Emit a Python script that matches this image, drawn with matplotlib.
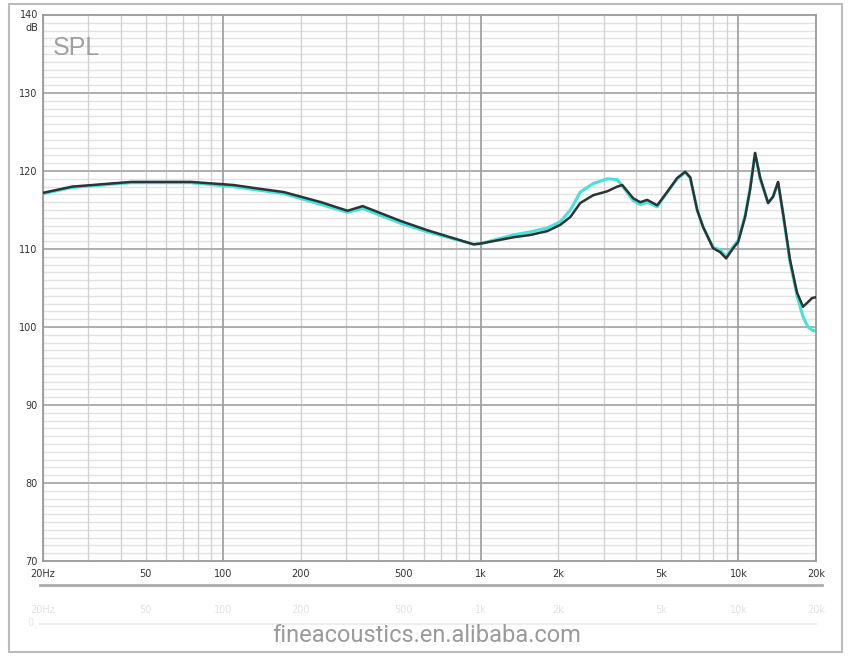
import matplotlib
matplotlib.use("Agg")
import matplotlib.pyplot as plt
from matplotlib.patches import Rectangle
from matplotlib.ticker import FixedLocator, NullFormatter
import numpy as np

# ---- 频响数据 ----
freq = [20, 26, 44, 75, 100, 110, 140, 172, 240, 304, 348, 488, 621, 938, 1000,
        1338, 1558, 1814, 2036, 2226, 2434, 2734, 3098, 3386, 3540, 3906, 4158,
        4426, 4838, 5290, 5784, 6214, 6498, 6916, 7296, 7978, 8492, 8960, 9538,
        9974, 10614, 11098, 11604, 12134, 13032, 13626, 14248, 14898, 15858,
        16880, 17810, 18622, 19300, 19820]
spl_black = [117.2, 118.0, 118.6, 118.6, 118.3, 118.2, 117.7, 117.3, 116.0, 114.9,
             115.5, 113.6, 112.4, 110.6, 110.7, 111.5, 111.8, 112.3, 113.1, 114.1,
             115.9, 116.9, 117.4, 118.0, 118.2, 116.5, 116.0, 116.3, 115.6, 117.3,
             119.1, 119.9, 119.2, 115.0, 112.8, 110.1, 109.6, 108.8, 110.1, 110.9,
             114.1, 117.6, 122.3, 119.2, 115.9, 116.7, 118.6, 114.6, 108.6, 104.4,
             102.6, 103.2, 103.7, 103.8]
spl_cyan = [117.1, 117.9, 118.5, 118.5, 118.1, 118.0, 117.5, 117.1, 115.7, 114.7,
            115.2, 113.3, 112.2, 110.6, 110.7, 111.8, 112.2, 112.7, 113.5, 115.0,
            117.3, 118.4, 119.0, 118.9, 118.1, 116.2, 115.7, 116.0, 115.4, 117.3,
            119.0, 119.8, 119.1, 115.0, 112.8, 110.2, 109.9, 109.0, 110.3, 111.1,
            114.3, 117.8, 122.3, 119.0, 115.9, 116.7, 118.5, 114.4, 108.3, 104.0,
            101.3, 100.0, 99.6, 99.5]

x_ticks = [20, 50, 100, 200, 500, 1000, 2000, 5000, 10000, 20000]
x_labels = ["20Hz", "50", "100", "200", "500", "1k", "2k", "5k", "10k", "20k"]
y_ticks = [70, 80, 90, 100, 110, 120, 130]

W, H = 850, 656
fig = plt.figure(figsize=(W / 100, H / 100), dpi=100)
fig.patch.set_facecolor("white")

def fx(px):
    return px / W

def fy(py):
    return 1 - py / H

# 外框
fig.patches.append(Rectangle((fx(9), fy(652)), fx(833), 648 / H, transform=fig.transFigure,
                             fill=False, edgecolor="#bbbbbb", linewidth=1.5))

# ---- 主图 ----
ax = fig.add_axes([fx(43), fy(561), fx(816 - 43), (561 - 15) / H])
ax.set_xscale("log")
ax.set_xlim(20, 20000)
ax.set_ylim(70, 140)

# 网格: 先画细横线, 再画竖线, 最后粗线
for v in range(70, 141):
    if v % 10:
        ax.axhline(v, color="#e2e2e2", linewidth=1.0, zorder=0.1)
minor_x = [m * d for d in [10, 100, 1000, 10000] for m in range(2, 10) if 20 <= m * d <= 20000]
for f in minor_x:
    ax.axvline(f, color="#d2d2d2", linewidth=1.0, zorder=0.2)
for v in range(80, 140, 10):
    ax.axhline(v, color="#a8a8a8", linewidth=1.3, zorder=0.3)
for f in [100, 1000, 10000]:
    ax.axvline(f, color="#9a9a9a", linewidth=1.2, zorder=0.4)

ax.plot(freq, spl_cyan, color="#45e3dc", linewidth=2.2, zorder=2)
ax.plot(freq, spl_black, color="#2e3333", linewidth=1.8, zorder=3)

for s in ax.spines.values():
    s.set_color("#999999")
    s.set_linewidth(1.3)
ax.xaxis.set_major_locator(FixedLocator(x_ticks))
ax.xaxis.set_minor_formatter(NullFormatter())
ax.set_xticks(x_ticks)
ax.set_xticklabels(x_labels)
ax.set_yticks(y_ticks)
ax.tick_params(axis="both", which="both", length=0, labelsize=7, colors="#333333")
ax.tick_params(axis="x", pad=6)
ax.tick_params(axis="y", pad=4)

ax.text(0.013, 0.94, "SPL", transform=ax.transAxes, fontsize=18, color="#a0a0a0",
        family=["Liberation Sans", "DejaVu Sans"], va="center", ha="left")
fig.text(fx(38), fy(15), "140", fontsize=7, color="#333333", ha="right", va="center")
fig.text(fx(38), fy(28), "dB", fontsize=7, color="#333333", ha="right", va="center")

# ---- 下方淡化区域 ----
fig.add_artist(plt.Line2D([fx(40), fx(822)], [fy(585), fy(585)], transform=fig.transFigure,
                          color="#aaaaaa", linewidth=2))
for f, lab in zip(x_ticks, x_labels):
    px = 43 + (816 - 43) * np.log10(f / 20) / 3
    fig.text(fx(px), fy(610), lab, fontsize=7, color="#e2e2e2", ha="center", va="center")
fig.add_artist(plt.Line2D([fx(40), fx(816)], [fy(624), fy(624)], transform=fig.transFigure,
                          color="#eeeeee", linewidth=1.5))
fig.text(fx(30), fy(623), "0", fontsize=7, color="#e2e2e2", ha="center", va="center")

fig.text(fx(427), fy(636), "fineacoustics.en.alibaba.com", fontsize=17, color="#9a9a9a",
         family=["Liberation Sans Narrow", "Roboto", "DejaVu Sans"], fontstretch="condensed",
         ha="center", va="center")

fig.savefig("out.png", dpi=100)
